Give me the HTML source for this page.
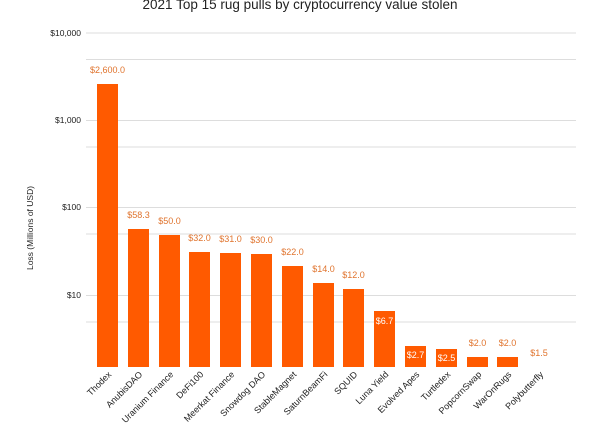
<!DOCTYPE html>
<html><head><meta charset="utf-8"><style>
html,body{margin:0;padding:0;background:#fff;}
svg{display:block;font-family:"Liberation Sans",sans-serif;}
</style></head><body>
<svg width="600" height="437" viewBox="0 0 600 437">
<text x="300" y="9" text-anchor="middle" font-size="13.5" fill="#222">2021 Top 15 rug pulls by cryptocurrency value stolen</text>
<g stroke="#ddd" stroke-width="1">
<line x1="86" x2="576" y1="33" y2="33"/>
<line x1="86" x2="576" y1="59.5" y2="59.5"/>
<line x1="86" x2="576" y1="120.5" y2="120.5"/>
<line x1="86" x2="576" y1="147" y2="147"/>
<line x1="86" x2="576" y1="207.5" y2="207.5"/>
<line x1="86" x2="576" y1="234" y2="234"/>
<line x1="86" x2="576" y1="295.5" y2="295.5"/>
<line x1="86" x2="576" y1="322" y2="322"/>
</g>
<g font-size="8.5" fill="#222" text-anchor="end">
<text x="81" y="36">$10,000</text>
<text x="81" y="123">$1,000</text>
<text x="81" y="210">$100</text>
<text x="81" y="298">$10</text>
</g>
<text transform="translate(33,228) rotate(-90)" text-anchor="middle" font-size="8.5" fill="#222">Loss (Millions of USD)</text>
<g fill="#ff5a00">
<rect x="97" y="84" width="21" height="283"/>
<rect x="128" y="229" width="21" height="138"/>
<rect x="159" y="235" width="21" height="132"/>
<rect x="189" y="252" width="21" height="115"/>
<rect x="220" y="253" width="21" height="114"/>
<rect x="251" y="254" width="21" height="113"/>
<rect x="282" y="266" width="21" height="101"/>
<rect x="313" y="283" width="21" height="84"/>
<rect x="343" y="289" width="21" height="78"/>
<rect x="374" y="311" width="21" height="56"/>
<rect x="405" y="346" width="21" height="21"/>
<rect x="436" y="349" width="21" height="18"/>
<rect x="467" y="357" width="21" height="10"/>
<rect x="497" y="357" width="21" height="10"/>
</g>
<g font-size="9" fill="#e0742e" text-anchor="middle">
<text x="107.5" y="73">$2,600.0</text>
<text x="138.5" y="218">$58.3</text>
<text x="169.5" y="224">$50.0</text>
<text x="199.5" y="241">$32.0</text>
<text x="230.5" y="242">$31.0</text>
<text x="261.5" y="243">$30.0</text>
<text x="292.5" y="255">$22.0</text>
<text x="323.5" y="272">$14.0</text>
<text x="353.5" y="278">$12.0</text>
<text x="477.5" y="346">$2.0</text>
<text x="507.5" y="346">$2.0</text>
<text x="539" y="356">$1.5</text>
</g>
<g font-size="9" fill="#fff" text-anchor="middle">
<text x="384.5" y="324">$6.7</text>
<text x="415.5" y="358">$2.7</text>
<text x="446.5" y="361">$2.5</text>
</g>
<g font-size="9" fill="#222" text-anchor="end">
<text transform="translate(112,375) rotate(-45)">Thodex</text>
<text transform="translate(143,375) rotate(-45)">AnubisDAO</text>
<text transform="translate(174,375) rotate(-45)">Uranium Finance</text>
<text transform="translate(204,375) rotate(-45)">DeFi100</text>
<text transform="translate(235,375) rotate(-45)">Meerkat Finance</text>
<text transform="translate(266,375) rotate(-45)">Snowdog DAO</text>
<text transform="translate(297,375) rotate(-45)">StableMagnet</text>
<text transform="translate(328,375) rotate(-45)">SaturnBeamFi</text>
<text transform="translate(358,375) rotate(-45)">SQUID</text>
<text transform="translate(389,375) rotate(-45)">Luna Yield</text>
<text transform="translate(420,375) rotate(-45)">Evolved Apes</text>
<text transform="translate(451,375) rotate(-45)">Turtledex</text>
<text transform="translate(482,375) rotate(-45)">PopcornSwap</text>
<text transform="translate(512,375) rotate(-45)">WarOnRugs</text>
<text transform="translate(544,375) rotate(-45)">Polybutterfly</text>
</g>
</svg>
</body></html>
